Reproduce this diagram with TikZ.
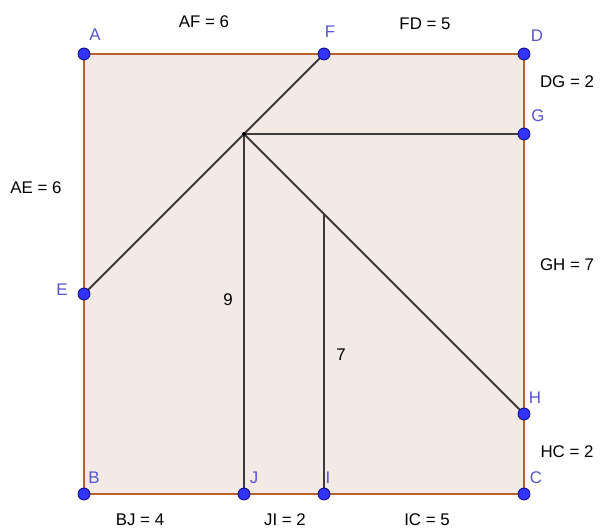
\documentclass[tikz,border=0pt]{standalone}
\usepackage{fontspec}
\setmainfont{Liberation Sans}

\definecolor{bord}{RGB}{185,95,48}
\definecolor{remp}{RGB}{244,234,229}
\definecolor{pt}{RGB}{51,51,255}
\definecolor{nom}{RGB}{85,85,210}
\definecolor{trait}{RGB}{60,60,60}

\begin{document}
\begin{tikzpicture}[font=\fontsize{12}{14}\selectfont]

\useasboundingbox (-2.1,-0.875) rectangle (13.125,12.35);

% Sommets
\coordinate (A) at (0,11);
\coordinate (B) at (0,0);
\coordinate (C) at (11,0);
\coordinate (D) at (11,11);
\coordinate (E) at (0,5);
\coordinate (F) at (6,11);
\coordinate (G) at (11,9);
\coordinate (H) at (11,2);
\coordinate (I) at (6,0);
\coordinate (J) at (4,0);
\coordinate (P) at (4,9);
\coordinate (K) at (6,7);

% Carre
\fill[remp] (A) -- (B) -- (C) -- (D) -- cycle;

% Segments
\draw[trait, line width=1.3pt] (P) -- (F);
\draw[trait, line width=1.3pt] (P) -- (E);
\draw[trait, line width=1.3pt] (P) -- (G);
\draw[trait, line width=1.3pt] (P) -- (J);
\draw[trait, line width=1.3pt] (P) -- (H);
\draw[trait, line width=1.3pt] (K) -- (I);

\draw[bord, line width=1.9pt] (A) -- (D) -- (C) -- (B) -- cycle;

\fill (P) circle (0.05);

% Points
\foreach \p in {A,F,D,G,H,C,I,J,B,E}
{
\fill[pt, draw=blue!40!black, line width=0.5pt] (\p) circle (0.15);
}

\foreach \p/\x/\y in {
A/0.275/11.475, F/6.15/11.55, D/11.325/11.45,
G/11.35/9.45, E/-0.55/5.1, H/11.275/2.4,
C/11.3/0.4, B/0.25/0.4, J/4.25/0.4, I/6.1/0.4
}
{
\node[nom] (n\p) at (\x,\y) {\p};
}

% Longueurs
\node (lAF) at (3.0,11.8) {AF = 6};
\node (lFD) at (8.525,11.75) {FD = 5};
\node (lDG) at (12.075,10.3) {DG = 2};
\node (lGH) at (12.075,5.725) {GH = 7};
\node (lHC) at (12.075,1.05) {HC = 2};
\node (lAE) at (-1.2,7.65) {AE = 6};
\node (lBJ) at (1.4,-0.65) {BJ = 4};
\node (lJI) at (5.025,-0.65) {JI = 2};
\node (lIC) at (8.575,-0.65) {IC = 5};
\node (lPJ) at (3.6,4.85) {9};
\node (lKI) at (6.425,3.475) {7};

\end{tikzpicture}
\end{document}
